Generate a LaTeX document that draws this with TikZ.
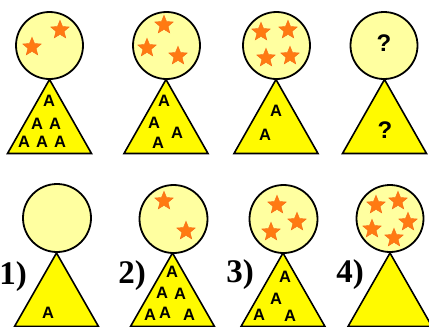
\documentclass[tikz,border=0pt]{standalone}
\usepackage{fontspec}
\setmainfont{Liberation Sans}
\newfontfamily\numfont{Liberation Serif}
\usetikzlibrary{shapes.geometric}
\definecolor{ballfill}{RGB}{255,255,160}
\definecolor{trifill}{RGB}{255,250,0}
\definecolor{starfill}{RGB}{255,122,18}
\definecolor{staredge}{RGB}{245,105,20}
\tikzset{
  ball/.style={circle, draw=black, line width=1.8pt, fill=ballfill, inner sep=0pt, minimum size=#1},
  tri/.style={draw=black, line width=1.6pt, fill=trifill, line join=miter},
  orstar/.style={star, star points=5, star point ratio=2.25, fill=starfill, draw=staredge, line width=0.4pt, inner sep=0pt, minimum size=19.5pt, rotate=0},
  letter/.style={inner sep=0pt, font=\bfseries\fontsize{16.5}{16.5}\selectfont},
  qmark/.style={inner sep=0pt, font=\bfseries\fontsize{24}{24}\selectfont},
  numlabel/.style={inner sep=0pt, font=\numfont\bfseries\fontsize{33}{33}\selectfont},
}
\begin{document}
\begin{tikzpicture}[x=1pt,y=-1pt]
\useasboundingbox (0,0) rectangle (429,327);
\fill[white] (0,0) rectangle (429,327);
\begin{scope}
\clip (0,0) rectangle (429,327);
% ---------- top row ----------
% panel 1
\draw[tri] (49.5,79.5) -- (91.5,153.5) -- (7.5,153.5) -- cycle;
\node[ball=67pt] (c1) at (49.5,45.5) {};
\node[orstar] (s11) at (60,30) {};
\node[orstar] (s12) at (32,47) {};
\node[letter] (a11) at (49,101) {A};
\node[letter] (a12) at (37,124) {A};
\node[letter] (a13) at (55,124) {A};
\node[letter] (a14) at (24,142) {A};
\node[letter] (a15) at (42,142) {A};
\node[letter] (a16) at (60,142) {A};
% panel 2
\draw[tri] (166,79.5) -- (208,153.5) -- (124,153.5) -- cycle;
\node[ball=67pt] (c2) at (166.5,45.5) {};
\node[orstar] (s21) at (164,25) {};
\node[orstar] (s22) at (147,48) {};
\node[orstar] (s23) at (178,56) {};
\node[letter] (a21) at (164,101) {A};
\node[letter] (a22) at (154,123) {A};
\node[letter] (a23) at (158,143) {A};
\node[letter] (a24) at (177,133) {A};
% panel 3
\draw[tri] (276,79.5) -- (318,153.5) -- (234,153.5) -- cycle;
\node[ball=67pt] (c3) at (276.5,45.5) {};
\node[orstar] (s31) at (261,32) {};
\node[orstar] (s32) at (288,30) {};
\node[orstar] (s33) at (266,58) {};
\node[orstar] (s34) at (290,56) {};
\node[letter] (a31) at (276,111) {A};
\node[letter] (a32) at (265,135) {A};
% panel 4
\draw[tri] (384.5,79.5) -- (426.5,153.5) -- (342.5,153.5) -- cycle;
\node[ball=67pt] (c4) at (384,45.5) {};
\node[qmark] (q1) at (384,43) {?};
\node[qmark] (q2) at (385,130) {?};
% ---------- bottom row ----------
% panel 1
\draw[tri] (56.5,253) -- (98.5,326.5) -- (14.5,326.5) -- cycle;
\node[ball=68pt] (c5) at (57,218) {};
\node[letter] (a51) at (48,313) {A};
% panel 2
\draw[tri] (172.5,253) -- (214.5,326.5) -- (130.5,326.5) -- cycle;
\node[ball=68pt] (c6) at (173.5,219) {};
\node[orstar] (s61) at (164,201) {};
\node[orstar] (s62) at (186,231) {};
\node[letter] (a61) at (172,272) {A};
\node[letter] (a62) at (162,293) {A};
\node[letter] (a63) at (180,294) {A};
\node[letter] (a64) at (150,315) {A};
\node[letter] (a65) at (165,313) {A};
\node[letter] (a66) at (189,315) {A};
% panel 3
\draw[tri] (283,253) -- (325,326.5) -- (241,326.5) -- cycle;
\node[ball=68pt] (c7) at (283.5,219) {};
\node[orstar] (s71) at (277,205) {};
\node[orstar] (s72) at (297,222) {};
\node[orstar] (s73) at (271,232) {};
\node[letter] (a71) at (285,277) {A};
\node[letter] (a72) at (276,299) {A};
\node[letter] (a73) at (259,315) {A};
\node[letter] (a74) at (290,316) {A};
% panel 4
\draw[tri] (390,253) -- (432,326.5) -- (348,326.5) -- cycle;
\node[ball=67pt] (c8) at (390,218.5) {};
\node[orstar] (s81) at (376,205) {};
\node[orstar] (s82) at (398,201) {};
\node[orstar] (s83) at (408,222) {};
\node[orstar] (s84) at (372,229) {};
\node[orstar] (s85) at (394,238) {};
\end{scope}
% labels
\node[numlabel] (n1) at (13,277) {1)};
\node[numlabel] (n2) at (132,276) {2)};
\node[numlabel] (n3) at (240,275) {3)};
\node[numlabel] (n4) at (350,275) {4)};
\end{tikzpicture}
\end{document}
